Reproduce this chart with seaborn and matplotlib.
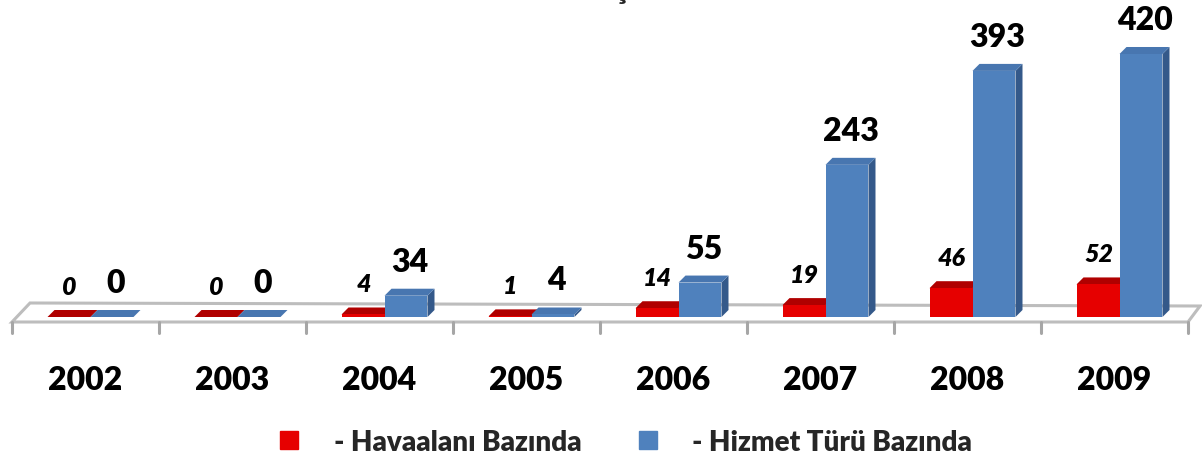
import numpy as np
import pandas as pd
import seaborn as sns
from matplotlib import pyplot as plt
from matplotlib.patches import Polygon
from matplotlib.lines import Line2D

# data
years = ["2002", "2003", "2004", "2005", "2006", "2007", "2008", "2009"]
havaalani = [0, 0, 4, 1, 14, 19, 46, 52]
hizmet = [0, 0, 34, 4, 55, 243, 393, 420]
series_names = ["- Havaalanı Bazında", "- Hizmet Türü Bazında"]

W, H = 1202, 460
red_cols = {"front": "#E60000", "top": "#B00000", "side": "#8A0000"}
blue_cols = {"front": "#4F81BD", "top": "#4876B0", "side": "#34598A"}

sns.set_theme(style="white")
plt.rcParams["font.family"] = ["Lato", "DejaVu Sans"]
plt.rcParams["font.weight"] = "bold"

df = pd.DataFrame(
    {
        "year": years * 2,
        "value": havaalani + hizmet,
        "series": [series_names[0]] * len(years) + [series_names[1]] * len(years),
    }
)

fig = plt.figure(figsize=(W / 100, H / 100), dpi=100)
# axes in pixel units: 147 px per category, baseline 318 px from the top
ax_left, ax_w = 17, 8 * 147
ax_bottom = H - 318
ymax = 500
px_per_y = 0.6262
ax_h = ymax * px_per_y
ax = fig.add_axes([ax_left / W, ax_bottom / H, ax_w / W, ax_h / H])

sns.barplot(
    data=df, x="year", y="value", hue="series",
    palette=[red_cols["front"], blue_cols["front"]],
    width=0.585, gap=0, saturation=1, edgecolor="none",
    legend=False, ax=ax,
)
ax.set_xlim(-0.5, 7.5)
ax.set_ylim(0, ymax)
ax.axis("off")

# pixel -> data helpers
def dx(px):
    return px / 147.0

def dy(px):
    return px / px_per_y

# floor plate
fx0, fx1 = -0.5 - dx(5), 7.5 - dx(5)
fy = -dy(5)
floor = Polygon(
    [(fx0, fy), (fx1, fy), (fx1 + dx(12), fy + dy(16)), (fx0 + dx(18), fy + dy(19))],
    closed=True, facecolor="white", edgecolor="#BDBDBD", lw=2.2, zorder=1, clip_on=False,
)
ax.add_patch(floor)
for k in range(9):
    xk = -0.5 + k - dx(5)
    ax.plot([xk, xk], [fy, fy - dy(11)], color="#A6A6A6", lw=2.2, clip_on=False, zorder=1)

# fake 3-D depth on every bar
n = len(years)
ddx, ddy = dx(7), dy(7)
for i, p in enumerate(ax.patches[: 2 * n]):
    cols = red_cols if i < n else blue_cols
    base_z = 3 if i < n else 5
    x0, w, h = p.get_x(), p.get_width(), p.get_height()
    x1 = x0 + w
    p.set_zorder(base_z)
    side = Polygon([(x1, 0), (x1 + ddx, ddy), (x1 + ddx, h + ddy), (x1, h)],
                   facecolor=cols["side"], edgecolor="none", zorder=base_z - 0.5, clip_on=False)
    top = Polygon([(x0, h), (x1, h), (x1 + ddx, h + ddy), (x0 + ddx, h + ddy)],
                  facecolor=cols["top"], edgecolor="none", zorder=base_z - 0.5, clip_on=False)
    ax.add_patch(side)
    ax.add_patch(top)
    cx = x0 + w / 2 + ddx / 2
    if i < n:
        ax.text(cx - dx(3), h + ddy + dy(12), f"{havaalani[i]}", ha="center", va="bottom",
                fontsize=18, fontstyle="italic", fontweight="heavy", color="black", zorder=7)
    else:
        ax.text(cx, h + ddy + dy(13), f"{hizmet[i - n]}", ha="center", va="bottom",
                fontsize=23, fontweight="heavy", color="black", zorder=7)

# year labels under the floor
for k, yr in enumerate(years):
    ax.text(k - dx(5), -dy(381 - 318), yr, ha="center", va="center",
            fontsize=23, fontweight="heavy", color="black", clip_on=False)

# clipped title (only the cedilla shows in the reference)
fig.text(0.517, 1.0 + 1 / H, "ş", ha="center", va="baseline", fontsize=24, fontweight="bold")

handles = [
    Line2D([], [], marker="s", linestyle="none", markersize=13, color=red_cols["front"]),
    Line2D([], [], marker="s", linestyle="none", markersize=13, color=blue_cols["front"]),
]
leg = fig.legend(handles, series_names, loc="center", bbox_to_anchor=(0.52, 1 - 443 / H),
                 ncol=2, frameon=False, fontsize=20, handlelength=0.8,
                 handletextpad=1.2, columnspacing=2.0)
for t in leg.get_texts():
    t.set_fontweight("heavy")

fig.savefig("out.png", dpi=100)
